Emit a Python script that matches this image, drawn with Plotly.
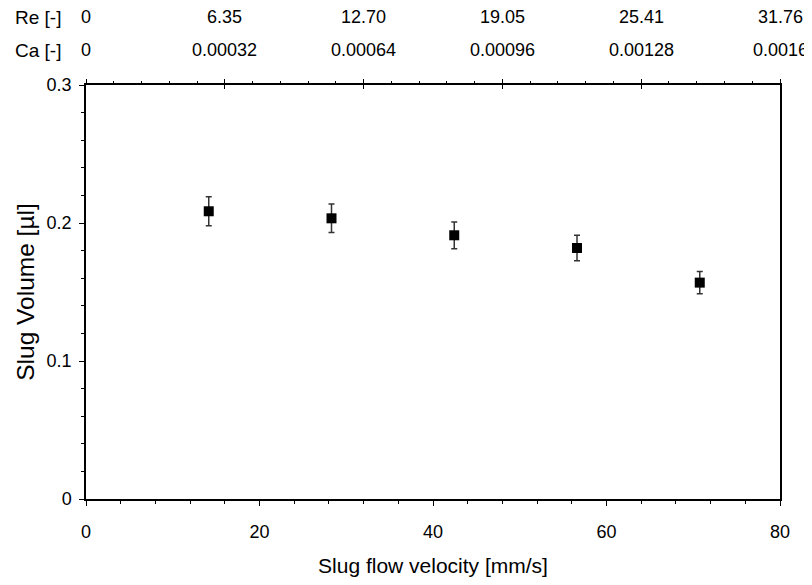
import plotly.graph_objects as go

# Data
velocity = [14.15, 28.3, 42.45, 56.6, 70.75]          # mm/s
volume = [0.2085, 0.2034, 0.1911, 0.1819, 0.1568]     # µl
volume_err = [0.0105, 0.0103, 0.0097, 0.0092, 0.0080]

top_tick_pos = [0, 16, 32, 48, 64, 80]
re_labels = ["0", "6.35", "12.70", "19.05", "25.41", "31.76"]
ca_labels = ["0", "0.00032", "0.00064", "0.00096", "0.00128", "0.0016"]

FONT = "Liberation Sans, Arial, sans-serif"

fig = go.Figure()
fig.add_trace(go.Scatter(
    x=velocity, y=volume, mode="markers",
    marker=dict(symbol="square", size=10, color="black", line=dict(width=0)),
    error_y=dict(type="data", array=volume_err, visible=True,
                 color="#333333", thickness=1.5, width=3),
    showlegend=False,
))
# invisible traces to activate top axes
fig.add_trace(go.Scatter(x=[0, 80], y=[0, 0], xaxis="x2", mode="markers",
                         marker=dict(opacity=0), showlegend=False, hoverinfo="skip"))
fig.add_trace(go.Scatter(x=[0, 80], y=[0, 0], xaxis="x3", mode="markers",
                         marker=dict(opacity=0), showlegend=False, hoverinfo="skip"))

axis_common = dict(showgrid=False, zeroline=False, linecolor="black", linewidth=1.5,
                   tickcolor="black", tickwidth=1.2,
                   tickfont=dict(family=FONT, size=18, color="black"))

fig.update_layout(
    width=804, height=577,
    margin=dict(l=78, r=31.7, t=76.7, b=86.3),
    paper_bgcolor="white", plot_bgcolor="white",
    font=dict(family=FONT, color="black"),
    xaxis=dict(range=[0, 80], tickvals=[0, 20, 40, 60, 80], ticks="outside", ticklen=5,
               showline=True, mirror=True, ticklabelstandoff=11,
               minor=dict(dtick=4, ticks="outside", ticklen=3.5, tickcolor="black", tickwidth=1),
               title=dict(text="Slug flow velocity [mm/s]", font=dict(family=FONT, size=21, color="black"),
                          standoff=17),
               **axis_common),
    yaxis=dict(range=[0, 0.3], tickvals=[0, 0.1, 0.2, 0.3], ticktext=["0", "0.1", "0.2", "0.3"],
               ticks="outside", ticklen=5, showline=True, mirror=True, ticklabelstandoff=4,
               minor=dict(dtick=0.02, ticks="outside", ticklen=3.5, tickcolor="black", tickwidth=1),
               title=dict(text="Slug Volume [µl]", font=dict(family=FONT, size=24.5, color="black"),
                          standoff=5),
               **axis_common),
    xaxis2=dict(range=[0, 80], overlaying="x", side="top", anchor="y",
                tickvals=top_tick_pos, ticks="outside", ticklen=5, showticklabels=False,
                showline=False,
                minor=dict(dtick=3.2, ticks="outside", ticklen=3.5, tickcolor="black", tickwidth=1),
                **axis_common),
    xaxis3=dict(range=[0, 80], overlaying="x", side="top", anchor="y",
                tickvals=top_tick_pos, ticks="inside", ticklen=4, showticklabels=False,
                showline=False, **axis_common),
)

annotations = []
for pos, re_t, ca_t in zip(top_tick_pos, re_labels, ca_labels):
    annotations.append(dict(x=pos, y=1, xref="x", yref="paper", text=re_t, showarrow=False,
                            xanchor="center", yanchor="middle", yshift=67.7,
                            font=dict(family=FONT, size=18, color="black")))
    annotations.append(dict(x=pos, y=1, xref="x", yref="paper", text=ca_t, showarrow=False,
                            xanchor="center", yanchor="middle", yshift=34.7,
                            font=dict(family=FONT, size=18, color="black")))
annotations.append(dict(x=0, y=1, xref="x", yref="paper", text="Re [-]", showarrow=False,
                        xanchor="right", yanchor="middle", xshift=-23, yshift=67.7,
                        font=dict(family=FONT, size=19, color="black")))
annotations.append(dict(x=0, y=1, xref="x", yref="paper", text="Ca [-]", showarrow=False,
                        xanchor="right", yanchor="middle", xshift=-23, yshift=34.7,
                        font=dict(family=FONT, size=19, color="black")))
fig.update_layout(annotations=annotations)

fig.write_html("out.html")
